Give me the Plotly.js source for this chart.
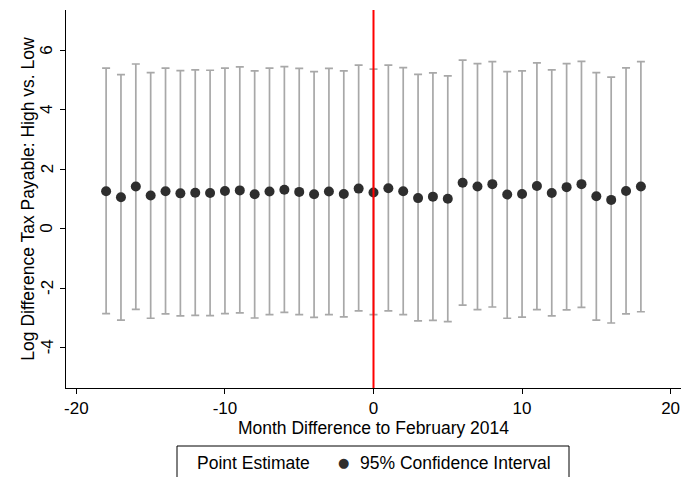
<!DOCTYPE html>
<html>
<head>
<meta charset="utf-8">
<script src="https://cdn.plot.ly/plotly-3.0.1.min.js"></script>
<style>html,body{margin:0;padding:0;background:#fff;}#chart{width:687px;height:477px;}</style>
</head>
<body>
<div id="chart"></div>
<script>
// Month difference to February 2014
const months = [-18,-17,-16,-15,-14,-13,-12,-11,-10,-9,-8,-7,-6,-5,-4,-3,-2,-1,0,1,2,3,4,5,6,7,8,9,10,11,12,13,14,15,16,17,18];
// Point estimates
const estimates = [1.26,1.06,1.42,1.12,1.26,1.19,1.21,1.20,1.27,1.29,1.16,1.25,1.31,1.24,1.16,1.25,1.17,1.35,1.22,
                   1.36,1.26,1.03,1.08,1.01,1.55,1.42,1.50,1.15,1.17,1.44,1.20,1.40,1.50,1.09,0.97,1.27,1.42];
// 95% CI bounds
const ciUpper = [5.41,5.19,5.55,5.26,5.41,5.33,5.35,5.34,5.41,5.45,5.32,5.41,5.46,5.40,5.29,5.40,5.32,5.51,5.38,
                 5.51,5.43,5.20,5.25,5.15,5.68,5.56,5.63,5.29,5.32,5.59,5.35,5.56,5.64,5.26,5.11,5.42,5.63];
const ciLower = [-2.86,-3.08,-2.72,-3.02,-2.87,-2.94,-2.92,-2.93,-2.86,-2.84,-3.01,-2.90,-2.82,-2.90,-2.99,-2.90,-2.97,-2.77,-2.90,
                 -2.77,-2.90,-3.11,-3.09,-3.13,-2.58,-2.73,-2.64,-3.02,-2.98,-2.73,-2.94,-2.74,-2.65,-3.08,-3.18,-2.87,-2.80];
const xTicks = [-20,-10,0,10,20];
const yTicks = [-4,-2,0,2,4,6];
const yTickText = ["-4","-2","0","2","4","6"];
const legendLabels = ["Point Estimate", "95% Confidence Interval"];

const FONT = "Liberation Sans, Arial, Helvetica, sans-serif";

const errPlus = estimates.map((v,i)=>ciUpper[i]-v);
const errMinus = estimates.map((v,i)=>v-ciLower[i]);

const traces = [
  {
    type: 'scatter', mode: 'markers', x: months, y: estimates,
    marker: {size: 10, color: 'rgba(0,0,0,0)'},
    error_y: {type: 'data', symmetric: false, array: errPlus, arrayminus: errMinus,
              color: '#a8a8a8', thickness: 1.7, width: 4},
    showlegend: false, hoverinfo: 'skip', name: legendLabels[0]
  },
  {
    type: 'scatter', mode: 'markers', x: months, y: estimates,
    marker: {size: 10, color: '#2e2e2e'},
    showlegend: false, name: legendLabels[1]
  }
];

const PX_L = 66, PX_R = 681, PX_T = 10, PX_B = 388;
const px2x = p => (p - PX_L) / (PX_R - PX_L);
const px2y = p => (PX_B - p) / (PX_B - PX_T);

// rotated y tick labels placed on the y scale
const yTickAnnotations = yTicks.map((v, i) => ({
  xref: 'paper', yref: 'y', x: px2x(47), y: v, xanchor: 'center', yanchor: 'middle',
  text: yTickText[i], textangle: -90, showarrow: false,
  font: {size: 17, family: FONT, color: '#000'}
}));

const layout = {
  width: 687, height: 477,
  margin: {l: PX_L, r: 687 - PX_R, t: PX_T, b: 477 - PX_B},
  paper_bgcolor: '#fff', plot_bgcolor: '#fff',
  font: {family: FONT, size: 17.5, color: '#000'},
  showlegend: false,
  xaxis: {
    range: [-20.7, 20.7], tickvals: xTicks, ticktext: xTicks.map(String),
    showline: true, linecolor: '#000', linewidth: 1,
    ticks: 'outside', ticklen: 5, tickwidth: 1, tickcolor: '#000',
    showgrid: false, zeroline: false,
    tickfont: {size: 17, family: FONT},
    title: {text: 'Month Difference to February 2014', font: {size: 17.5, family: FONT}, standoff: 0}
  },
  yaxis: {
    range: [-5.37, 7.37], tickvals: yTicks, showticklabels: false,
    showline: true, linecolor: '#000', linewidth: 1,
    ticks: 'outside', ticklen: 5, tickwidth: 1, tickcolor: '#000',
    showgrid: false, zeroline: false,
    title: {text: 'Log Difference Tax Payable: High vs. Low', font: {size: 17.5, family: FONT}, standoff: 20}
  },
  shapes: [
    {type: 'line', xref: 'x', yref: 'paper', x0: 0, x1: 0, y0: 0, y1: 1,
     line: {color: '#ff0000', width: 2}, layer: 'above'},
    {type: 'rect', xref: 'paper', yref: 'paper', x0: px2x(177), x1: px2x(569), y0: px2y(446), y1: px2y(482),
     line: {color: '#000', width: 1}, fillcolor: 'rgba(0,0,0,0)'}
  ],
  annotations: yTickAnnotations.concat([
    {xref: 'paper', yref: 'paper', x: px2x(195), y: px2y(463), xanchor: 'left', yanchor: 'middle',
     text: legendLabels[0], showarrow: false, font: {size: 17.5, family: FONT, color: '#000'}},
    {xref: 'paper', yref: 'paper', x: px2x(343), y: px2y(462), xanchor: 'center', yanchor: 'middle',
     text: '●', showarrow: false, font: {size: 13, family: 'DejaVu Sans', color: '#2e2e2e'}},
    {xref: 'paper', yref: 'paper', x: px2x(358), y: px2y(463), xanchor: 'left', yanchor: 'middle',
     text: legendLabels[1], showarrow: false, font: {size: 17.5, family: FONT, color: '#000'}}
  ])
};

Plotly.newPlot('chart', traces, layout, {displayModeBar: false, staticPlot: true});
</script>
</body>
</html>
